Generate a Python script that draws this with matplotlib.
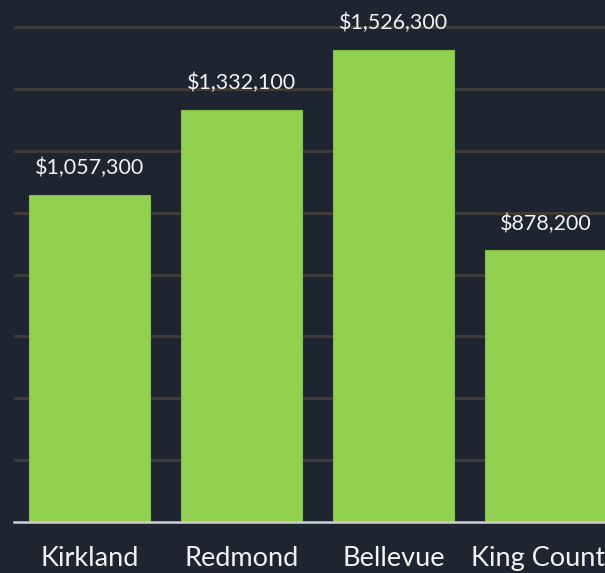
import matplotlib
matplotlib.use("Agg")
import matplotlib.pyplot as plt

# Median home values by area
areas = ["Kirkland", "Redmond", "Bellevue", "King County"]
values = [1057300, 1332100, 1526300, 878200]
grid_ticks = [200000, 400000, 600000, 800000, 1000000, 1200000, 1400000, 1600000]

bg = "#1e2430"
bar_color = "#92d050"
font = ["Lato", "DejaVu Sans"]

fig = plt.figure(figsize=(6.05, 5.73), dpi=100, facecolor=bg)
ax = fig.add_axes([13.5 / 605, 51 / 573, 1 - 13.5 / 605, 1 - 51 / 573])
ax.set_facecolor(bg)

x = list(range(len(areas)))
ax.bar(x, values, width=0.8, color=bar_color, edgecolor="#84bd48",
       linewidth=0.8, zorder=3)

for xi, v in zip(x, values):
    ax.annotate(f"${v:,}", (xi, v), xytext=(0, 12), textcoords="offset points",
                ha="center", va="bottom", color="#f2f2f2", fontsize=15.5,
                family=font, annotation_clip=False)

ax.set_xlim(-0.5, -0.5 + (605 - 13.5) / 152)
ax.set_ylim(0, 1688000)

ax.set_yticks(grid_ticks)
ax.yaxis.grid(True, color="#3f3b39", linewidth=2.2, zorder=0)
ax.tick_params(axis="y", left=False, labelleft=False)

ax.set_xticks(x)
ax.set_xticklabels(areas, family=font, fontsize=19.5, color="#f2f2f2")
ax.tick_params(axis="x", bottom=False, pad=14)

for side in ["top", "right", "left"]:
    ax.spines[side].set_visible(False)
ax.spines["bottom"].set_color("#cfcfcf")
ax.spines["bottom"].set_linewidth(1.8)
ax.spines["bottom"].set_zorder(4)

fig.savefig("out.png", dpi=100, facecolor=bg)
